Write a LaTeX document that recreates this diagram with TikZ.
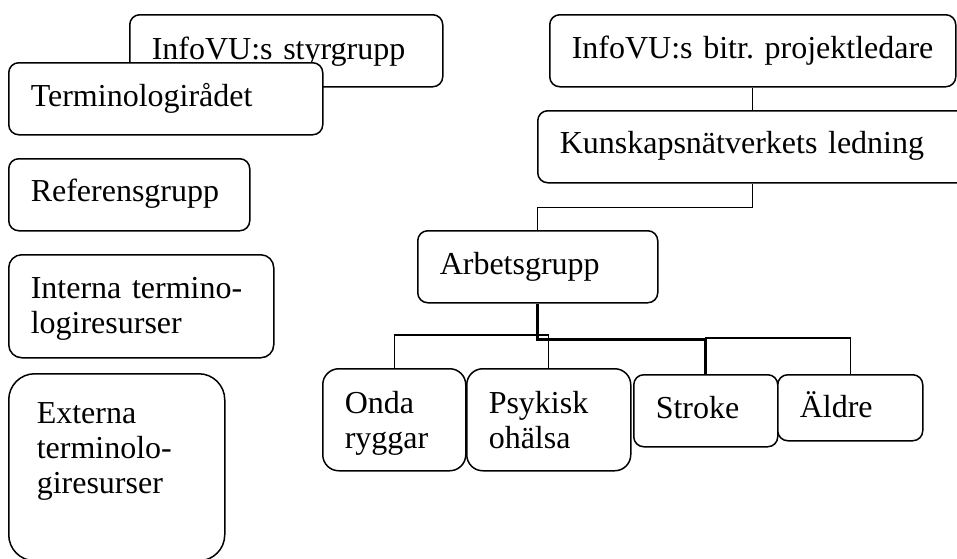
\documentclass[tikz,border=0pt]{standalone}
\usepackage{fontspec}
\setmainfont{Liberation Serif}
\usepackage{tikz}
\hyphenpenalty=10000
\frenchspacing
\tikzset{orgbox/.style = {draw, fill=white, line width=1.5pt, rounded corners=10pt, anchor=north west,
    inner xsep=22pt, inner ysep=0pt, align=left, text height=44pt, text depth=28pt,
    font=\fontsize{32}{35}\selectfont}}
\tikzset{link/.style = {line width=1.1pt}}
\tikzset{mainlink/.style = {line width=2.6pt}}

\begin{document}
\begin{tikzpicture}[x=1pt,y=-1pt]
        \useasboundingbox (0,0) rectangle (957,558);
        \node [orgbox, text width=269pt, text height=45pt, text depth=27pt] (styr) at (129,14) {InfoVU:s styrgrupp};
        \node [orgbox, text width=270pt] (termin) at (8,62) {Terminologirådet};
        \node [orgbox, text width=197pt, text height=43pt, text depth=29pt] (ref) at (8,158) {Referensgrupp};
        \node [orgbox, text width=221pt, text depth=59pt, rounded corners=13pt] (intern) at (8,254) {Interna termino-\\logiresurser};
        \node [orgbox, inner xsep=28pt, text width=160pt, text height=50pt, text depth=137pt, rounded corners=26pt] (extern) at (8,373) {Externa\\terminolo-\\giresurser};
        \node [orgbox, text width=362pt] (bitr) at (549,14) {InfoVU:s bitr. projektledare};
        \node [orgbox, text width=386pt, text height=43pt, text depth=29pt] (kunskap) at (537,110) {Kunskapsnätverkets ledning};
        \node [orgbox, text width=196pt] (arbets) at (417,230) {Arbetsgrupp};
        \node [orgbox, text width=99pt, text height=45pt, text depth=57pt, rounded corners=16pt] (onda) at (322,368) {Onda\\ryggar};
        \node [orgbox, text width=120pt, text height=45pt, text depth=57pt, rounded corners=16pt] (psyk) at (466,368) {Psykisk\\ohälsa};
        \node [orgbox, text width=100pt] (stroke) at (633,374) {Stroke};
        \node [orgbox, text width=101pt, text height=43pt, text depth=23pt] (aldre) at (777,374) {Äldre};
        \draw [link] (bitr.south) -- (bitr.south |- kunskap.north);
        \draw [link] (kunskap.south) -- ++(0,24) -| (arbets.north);
        \draw [link] (onda.north) -- ++(0,-33) -| (psyk.north);
        \draw [link] (stroke.north) -- ++(0,-36) -| (aldre.north);
        \draw [mainlink] (arbets.south) -- ++(0,36) -| (stroke.north);
    \end{tikzpicture}
\end{document}
